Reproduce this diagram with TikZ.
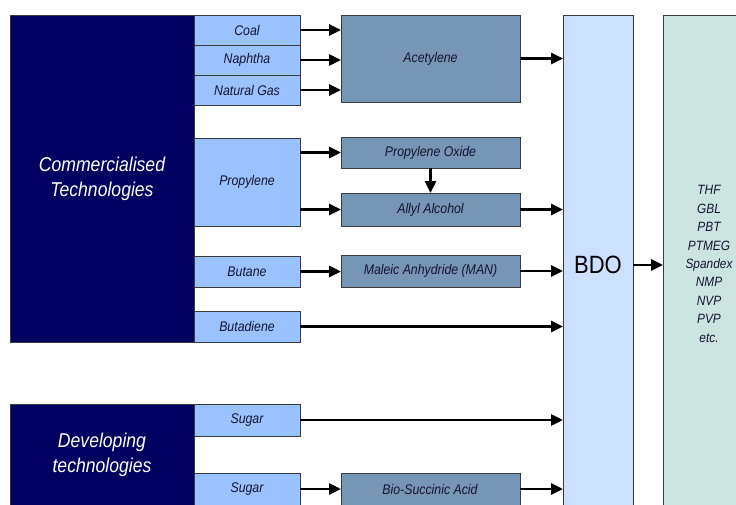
\documentclass[tikz,border=0pt]{standalone}
\usepackage{fontspec}
\setmainfont{Liberation Sans}[FakeStretch=0.88]
\usetikzlibrary{arrows.meta,calc}
\definecolor{navy}{HTML}{000060}
\definecolor{inblue}{HTML}{99C2FF}
\definecolor{midblue}{HTML}{7795B5}
\definecolor{bdoblue}{HTML}{CCE0FF}
\definecolor{prodgreen}{HTML}{CCE4E0}
\definecolor{edge}{HTML}{3A3A3A}
\definecolor{txt}{HTML}{141430}
\tikzset{
  base/.style={draw=edge, line width=0.9pt, anchor=north west, inner sep=0pt, outer sep=0pt, text=txt, align=center},
  tech/.style={base, fill=navy, text=white, font=\fontsize{20}{25}\selectfont\itshape},
  inp/.style={base, fill=inblue, font=\fontsize{14}{16}\selectfont\itshape},
  mid/.style={base, fill=midblue, font=\fontsize{14}{16}\selectfont\itshape},
  bdobox/.style={base, fill=bdoblue, text=black, font=\fontsize{25}{28}\selectfont},
  prodbox/.style={base, fill=prodgreen},
  arr/.style={line width=2.8pt, -{Triangle[length=12pt,width=11pt]}},
}
\begin{document}
\begin{tikzpicture}[x=1pt,y=-1pt]
\useasboundingbox (0,0) rectangle (736,504);
\clip (0,0) rectangle (736,504);
% commercialised
\node[tech, minimum width=184pt, minimum height=327pt] (comm) at (10,15) {Commercialised\\Technologies};
\node[inp, minimum width=106pt, minimum height=30pt] (coal) at (194,15) {Coal};
\node[inp, minimum width=106pt, minimum height=30pt] (naph) at (194,45) {Naphtha};
\node[inp, minimum width=106pt, minimum height=30pt] (gas) at (194,75) {Natural Gas};
\node[inp, minimum width=106pt, minimum height=88pt] (prop) at (194,138) {Propylene};
\node[inp, minimum width=106pt, minimum height=31pt] (butane) at (194,256) {Butane};
\node[inp, minimum width=106pt, minimum height=31pt] (butad) at (194,311) {Butadiene};
% intermediates
\node[mid, minimum width=179pt, minimum height=87pt] (acet) at (341,15) {Acetylene};
\node[mid, minimum width=179pt, minimum height=31pt] (po) at (341,137) {Propylene Oxide};
\node[mid, minimum width=179pt, minimum height=33pt] (aa) at (341,193) {Allyl Alcohol};
\node[mid, minimum width=179pt, minimum height=32pt] (man) at (341,255) {Maleic Anhydride (MAN)};
% developing
\node[tech, minimum width=184pt, minimum height=130pt] (dev) at (10,404) {};
\node[text=white, font=\fontsize{20}{25}\selectfont\itshape, align=center] (devt) at (102,455) {Developing\\technologies};
\node[inp, minimum width=106pt, minimum height=32pt] (sug1) at (194,404) {Sugar};
\node[inp, minimum width=106pt, minimum height=32pt] (sug2) at (194,473) {};
\node[font=\fontsize{14}{16}\selectfont\itshape, text=txt] (sug2t) at (247,489) {Sugar};
\node[mid, minimum width=179pt, minimum height=32pt] (bsa) at (341,473) {};
\node[font=\fontsize{14}{16}\selectfont\itshape, text=txt] (bsat) at (430,489) {Bio-Succinic Acid};
% BDO and products
\node[bdobox, minimum width=70pt, minimum height=500pt] (bdo) at (563,15) {BDO};
\node[prodbox, minimum width=90pt, minimum height=500pt] (prod) at (663,15) {};
\node[font=\fontsize{13.5}{18.4}\selectfont\itshape, text=txt, align=center] (prodt) at (709,264) {THF\\GBL\\PBT\\PTMEG\\Spandex\\NMP\\NVP\\PVP\\etc.};
% arrows
\draw[arr] (coal.east) -- (coal.east -| acet.west);
\draw[arr] (naph.east) -- (naph.east -| acet.west);
\draw[arr] (gas.east) -- (gas.east -| acet.west);
\draw[arr] (acet.east) -- (acet.east -| bdo.west);
\draw[arr] (prop.east |- po.west) -- (po.west);
\draw[arr] (prop.east |- aa.west) -- (aa.west);
\draw[arr] (po.south) -- (aa.north);
\draw[arr] (aa.east) -- (aa.east -| bdo.west);
\draw[arr] (butane.east) -- (butane.east -| man.west);
\draw[arr] (man.east) -- (man.east -| bdo.west);
\draw[arr] (butad.east) -- (butad.east -| bdo.west);
\draw[arr] (sug1.east) -- (sug1.east -| bdo.west);
\draw[arr] (sug2.east |- sug2t.center) -- (bsa.west |- sug2t.center);
\draw[arr] (bsa.east |- bsat.center) -- (bdo.west |- bsat.center);
\draw[arr] (bdo.east) -- (bdo.east -| prod.west);
\end{tikzpicture}
\end{document}
